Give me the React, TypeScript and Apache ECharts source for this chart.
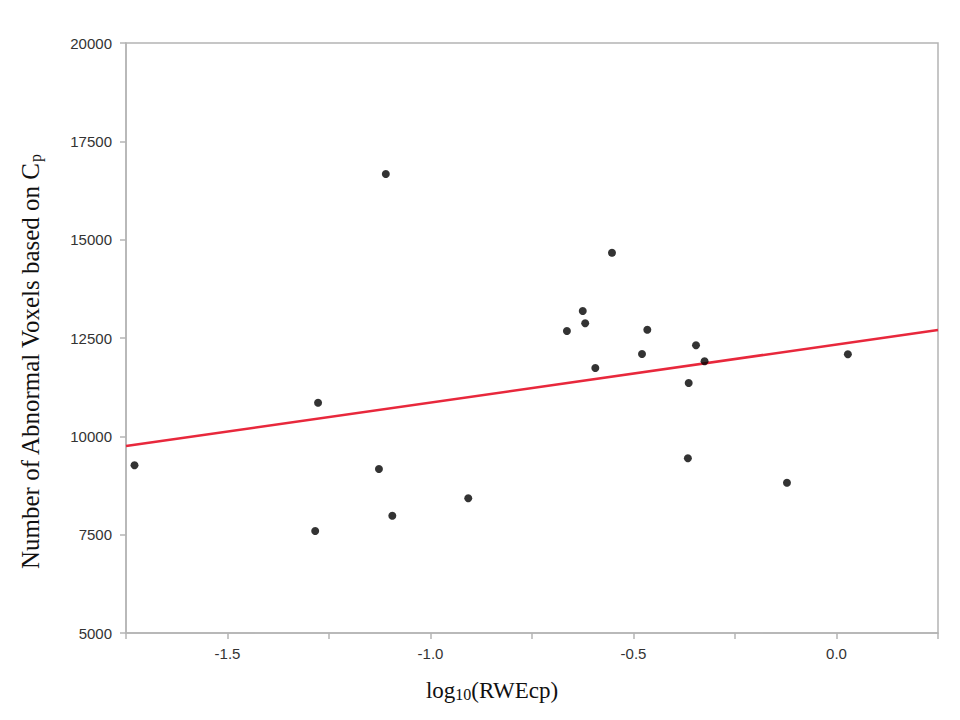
import React, { useEffect, useRef } from "react";
import * as echarts from "echarts";

const xValues = [
  -1.110, -1.277, -1.729, -1.127, -1.094, -1.284, -0.907, -0.553, -0.625, -0.619,
  -0.664, -0.466, -0.479, -0.594, -0.346, -0.325, -0.364, -0.366, -0.122, 0.028,
];
const yValues = [
  16670, 10855, 9263, 9169, 7983, 7593, 8424, 14669, 13187, 12874,
  12678, 12711, 12093, 11737, 12314, 11907, 11356, 9441, 8822, 12085,
];
const fitX = [-1.75, 0.25];
const fitY = [9754, 12703];

const xTickLabels = ["-1.5", "-1.0", "-0.5", "0.0"];
const yTickLabels = ["5000", "7500", "10000", "12500", "15000", "17500", "20000"];

export default function App() {
  const ref = useRef<HTMLDivElement>(null);
  useEffect(() => {
    document.body.style.margin = "0";
    const chart = echarts.init(ref.current!, null, { renderer: "svg" });
    const axisColor = "#b4b4b4";
    const labelStyle = {
      color: "#333333",
      fontFamily: "Liberation Sans",
      fontSize: 15,
    };
    chart.setOption({
      animation: false,
      backgroundColor: "#ffffff",
      grid: {
        left: 126,
        top: 43,
        right: 22,
        bottom: 87,
        show: true,
        borderColor: axisColor,
        borderWidth: 1.5,
      },
      xAxis: {
        type: "value",
        min: -1.75,
        max: 0.25,
        interval: 0.25,
        axisLine: { show: true, onZero: false, lineStyle: { color: axisColor, width: 1.5 } },
        axisTick: { show: true, inside: false, length: 6, lineStyle: { color: axisColor, width: 1.5 } },
        splitLine: { show: false },
        axisLabel: {
          ...labelStyle,
          margin: 13,
          formatter: (v: number) => {
            const s = v.toFixed(1);
            return xTickLabels.includes(s) && Math.abs(v * 2 - Math.round(v * 2)) < 1e-6 ? s : "";
          },
        },
      },
      yAxis: {
        type: "value",
        min: 5000,
        max: 20000,
        interval: 2500,
        axisLine: { show: true, onZero: false, lineStyle: { color: axisColor, width: 1.5 } },
        axisTick: { show: true, inside: false, length: 6, lineStyle: { color: axisColor, width: 1.5 } },
        splitLine: { show: false },
        axisLabel: {
          ...labelStyle,
          margin: 14,
          formatter: (v: number) => (yTickLabels.includes(String(v)) ? String(v) : ""),
        },
      },
      graphic: [
        {
          type: "text",
          x: 30,
          y: 362,
          rotation: Math.PI / 2,
          style: {
            text: "Number of Abnormal Voxels based on C{sub|p}",
            fontFamily: "Liberation Serif",
            fontSize: 25,
            fill: "#111111",
            align: "center",
            verticalAlign: "middle",
            rich: {
              sub: { fontFamily: "Liberation Serif", fontSize: 16, fill: "#111111", padding: [10, 0, 0, 0] },
            },
          },
        },
        {
          type: "text",
          x: 492,
          y: 690,
          style: {
            text: "log{sub|10}(RWEcp)",
            fontFamily: "Liberation Serif",
            fontSize: 23,
            fill: "#111111",
            align: "center",
            verticalAlign: "middle",
            rich: {
              sub: { fontFamily: "Liberation Serif", fontSize: 16, fill: "#111111", padding: [8, 0, 0, 0] },
            },
          },
        },
      ],
      series: [
        {
          type: "line",
          data: fitX.map((x, i) => [x, fitY[i]]),
          showSymbol: false,
          symbol: "none",
          lineStyle: { color: "#e8283c", width: 2.5 },
          z: 2,
        },
        {
          type: "scatter",
          data: xValues.map((x, i) => [x, yValues[i]]),
          symbol: "circle",
          symbolSize: 8,
          itemStyle: { color: "#000000" },
          z: 3,
        },
      ],
    });
    return () => chart.dispose();
  }, []);
  return <div ref={ref} style={{ width: 960, height: 720 }} />;
}
